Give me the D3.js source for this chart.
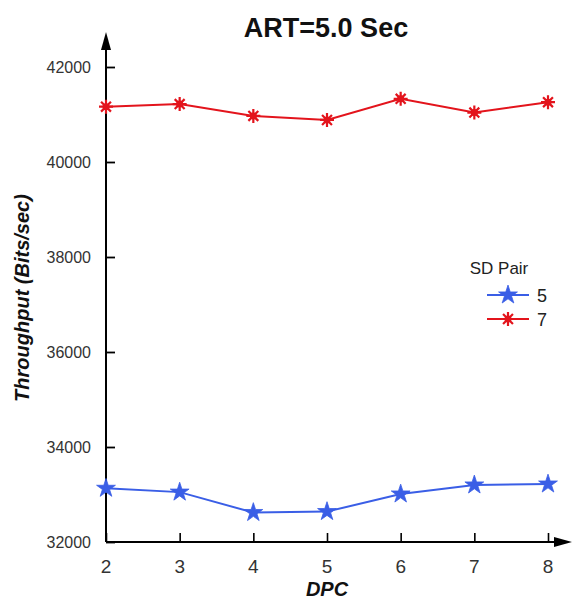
<!DOCTYPE html>
<html>
<head>
<meta charset="utf-8">
<script src="https://cdn.jsdelivr.net/npm/d3@7"></script>
<style>
  html, body { margin: 0; padding: 0; background: #fff; }
  svg { display: block; font-family: "Liberation Sans", Arial, sans-serif; }
</style>
</head>
<body>
<svg id="chart" width="572" height="603"></svg>
<script>
// DPC values on the x axis
const dpc = [2, 3, 4, 5, 6, 7, 8];
// Throughput (Bits/sec) per SD pair
const pair5 = [33130, 33050, 32620, 32640, 33010, 33200, 33220];
const pair7 = [41165, 41220, 40970, 40885, 41330, 41040, 41260];
const yTicks = [32000, 34000, 36000, 38000, 40000, 42000];
const seriesNames = ["5", "7"];

const svg = d3.select("#chart");

const x = d3.scaleLinear().domain([2, 8]).range([106, 548]);
const y = d3.scaleLinear().domain([32000, 42000]).range([542, 67]);

const axisColor = "#000";

// Title
svg.append("text")
  .attr("x", 326).attr("y", 37)
  .attr("text-anchor", "middle")
  .attr("font-size", 27).attr("font-weight", "bold")
  .attr("fill", "#111")
  .text("ART=5.0 Sec");

// Y axis with inward ticks
const yAxis = d3.axisRight(y).tickValues(yTicks).tickSize(9).tickFormat("");
const gy = svg.append("g").attr("transform", `translate(${x(2)},0)`).call(yAxis);
gy.select(".domain").remove();
gy.selectAll(".tick line").attr("stroke", axisColor).attr("stroke-width", 1.8);
svg.append("line")
  .attr("x1", x(2)).attr("x2", x(2))
  .attr("y1", y(32000)).attr("y2", 42)
  .attr("stroke", axisColor).attr("stroke-width", 2);
svg.append("path")
  .attr("d", `M${x(2)},32 L${x(2) - 5},50 L${x(2) + 5},50 Z`)
  .attr("fill", axisColor);

// Y tick labels
svg.append("g").selectAll("text")
  .data(yTicks)
  .join("text")
  .attr("x", 91)
  .attr("y", d => y(d) + 6)
  .attr("text-anchor", "end")
  .attr("font-size", 16)
  .attr("fill", "#333")
  .text(d => d);

// X axis with inward ticks
const xAxis = d3.axisTop(x).tickValues(dpc).tickSize(9).tickFormat("");
const gx = svg.append("g").attr("transform", `translate(0,${y(32000)})`).call(xAxis);
gx.select(".domain").remove();
gx.selectAll(".tick line").attr("stroke", axisColor).attr("stroke-width", 1.6);
svg.append("line")
  .attr("x1", x(2)).attr("x2", 560)
  .attr("y1", y(32000)).attr("y2", y(32000))
  .attr("stroke", axisColor).attr("stroke-width", 2);
svg.append("path")
  .attr("d", `M572,${y(32000)} L554,${y(32000) - 5} L554,${y(32000) + 5} Z`)
  .attr("fill", axisColor);

// X tick labels
svg.append("g").selectAll("text")
  .data(dpc)
  .join("text")
  .attr("x", d => x(d))
  .attr("y", 573)
  .attr("text-anchor", "middle")
  .attr("font-size", 19)
  .attr("fill", "#333")
  .text(d => d);

// Axis titles
svg.append("text")
  .attr("x", 327).attr("y", 596)
  .attr("text-anchor", "middle")
  .attr("font-size", 20).attr("font-weight", "bold").attr("font-style", "italic")
  .attr("fill", "#111")
  .text("DPC");

svg.append("text")
  .attr("transform", "translate(29,298) rotate(-90)")
  .attr("text-anchor", "middle")
  .attr("font-size", 20).attr("font-weight", "bold").attr("font-style", "italic")
  .attr("fill", "#111")
  .text("Throughput (Bits/sec)");

// Marker shapes
const starPath = d3.symbol().type(d3.symbolStar).size(110)();
function asteriskPath(r) {
  let p = "";
  for (let i = 0; i < 4; i++) {
    const a = i * Math.PI / 4;
    const dx = r * Math.cos(a), dy = r * Math.sin(a);
    p += `M${-dx},${-dy}L${dx},${dy}`;
  }
  return p;
}
const astPath = asteriskPath(7);

const series = [
  { name: seriesNames[0], values: pair5, color: "#3a5ee6", marker: "star" },
  { name: seriesNames[1], values: pair7, color: "#e3141c", marker: "asterisk" }
];

const line = d3.line().x((d, i) => x(dpc[i])).y(d => y(d));

function drawMarker(sel, s) {
  if (s.marker === "star") {
    sel.append("path").attr("d", starPath).attr("fill", s.color).attr("stroke", s.color).attr("stroke-width", 0.8);
  } else {
    sel.append("path").attr("d", astPath).attr("fill", "none").attr("stroke", s.color).attr("stroke-width", 2.2);
    sel.append("circle").attr("r", 3.5).attr("fill", s.color);
  }
}

series.forEach(s => {
  svg.append("path")
    .datum(s.values)
    .attr("d", line)
    .attr("fill", "none")
    .attr("stroke", s.color)
    .attr("stroke-width", 2);
  s.values.forEach((v, i) => {
    const g = svg.append("g").attr("transform", `translate(${x(dpc[i])},${y(v)})`);
    drawMarker(g, s);
  });
});

// Legend
const legend = svg.append("g");
legend.append("text")
  .attr("x", 499).attr("y", 274)
  .attr("text-anchor", "middle")
  .attr("font-size", 17)
  .attr("fill", "#222")
  .text("SD Pair");
series.forEach((s, i) => {
  const ly = 295 + i * 24;
  legend.append("line")
    .attr("x1", 487).attr("x2", 529)
    .attr("y1", ly).attr("y2", ly)
    .attr("stroke", s.color).attr("stroke-width", 2);
  const g = legend.append("g").attr("transform", `translate(508,${ly})`);
  drawMarker(g, s);
  legend.append("text")
    .attr("x", 537).attr("y", ly + 7)
    .attr("font-size", 18)
    .attr("fill", "#222")
    .text(s.name);
});
</script>
</body>
</html>
